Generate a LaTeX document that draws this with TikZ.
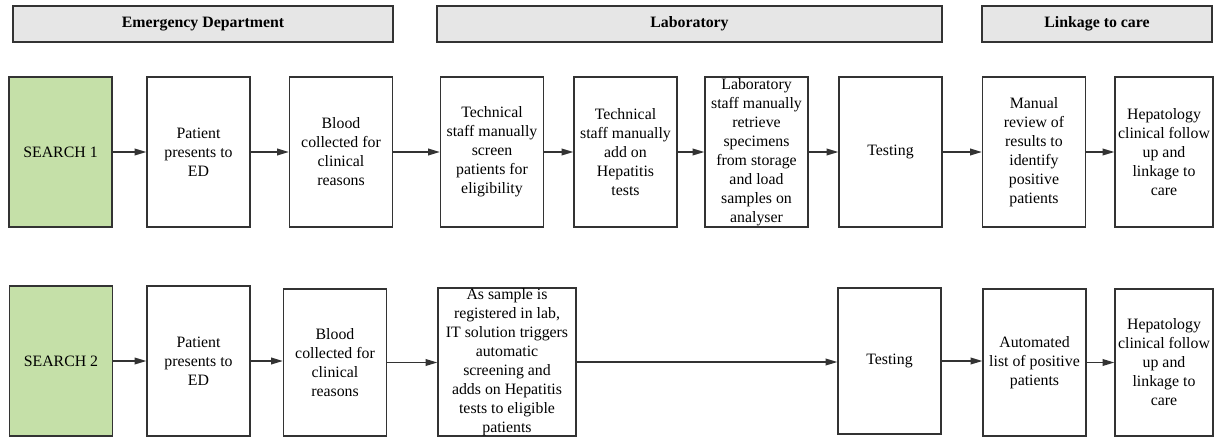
\documentclass[tikz,border=0pt]{standalone}
\usepackage{fontspec}
\setmainfont{Liberation Serif}
\usepackage{tikz}
\usetikzlibrary{arrows.meta}
\definecolor{searchgreen}{HTML}{C5E0A8}
\definecolor{headgray}{HTML}{E6E6E6}
\definecolor{linegray}{HTML}{333333}
\begin{document}
\begin{tikzpicture} [x=0.6pt,y=-0.6pt,every node/.style={align=center,font=\fontsize{9.5}{11.4}\selectfont,inner sep=0pt},
		stepbox/.style={draw=linegray,line width=0.8pt,fill=white,minimum width=61.8pt,minimum height=90pt},
		searchbox/.style={stepbox,fill=searchgreen},
		headbox/.style={draw=linegray,line width=0.8pt,fill=headgray,minimum height=21.6pt,font=\fontsize{9.5}{11.4}\selectfont\bfseries},
		flow/.style={draw=linegray,line width=0.8pt,-{Triangle[length=7pt,width=4pt]}}]
			\useasboundingbox (0,0) rectangle (1215,438);
			% header bands
			\node [headbox,minimum width=228pt] (ed) at (203,24) {Emergency Department};
			\node [headbox,minimum width=303pt] (lab) at (689.5,24) {Laboratory};
			\node [headbox,minimum width=138pt] (link) at (1097,24) {Linkage to care};
			% search 1
			\node [searchbox] (s1) at (60.5,152) {SEARCH 1};
			\node [stepbox] (pe1) at (198.5,152) {Patient\\presents to\\ED};
			\node [stepbox] (bl1) at (341,152) {Blood\\collected for\\clinical\\reasons};
			\node [stepbox] (ts1) at (492,152) {Technical\\staff manually\\screen\\patients for\\eligibility};
			\node [stepbox] (ta1) at (625.5,152) {Technical\\staff manually\\add on\\Hepatitis\\tests};
			\node [stepbox] (lr1) at (756.5,152) {Laboratory\\staff manually\\retrieve\\specimens\\from storage\\and load\\samples on\\analyser};
			\node [stepbox] (te1) at (890.5,152) {Testing};
			\node [stepbox] (mr1) at (1034,152) {Manual\\review of\\results to\\identify\\positive\\patients};
			\node [stepbox,minimum width=58.8pt] (hc1) at (1164,152) {Hepatology\\clinical follow\\up and\\linkage to\\care};
			% search 2
			\node [searchbox] (s2) at (61,361) {SEARCH 2};
			\node [stepbox] (pe2) at (198.5,361) {Patient\\presents to\\ED};
			\node [stepbox,minimum height=88.2pt] (bl2) at (335,362.5) {Blood\\collected for\\clinical\\reasons};
			\node [stepbox,minimum width=82.8pt,minimum height=88.8pt] (as2) at (507,362) {As sample is\\registered in lab,\\IT solution triggers\\automatic\\screening and\\adds on Hepatitis\\tests to eligible\\patients};
			\node [stepbox,minimum height=87.6pt] (te2) at (889.5,361) {Testing};
			\node [stepbox,minimum height=88.2pt] (au2) at (1034.5,362.5) {Automated\\list of positive\\patients};
			\node [stepbox,minimum width=58.8pt,minimum height=88.2pt] (hc2) at (1164,362.5) {Hepatology\\clinical follow\\up and\\linkage to\\care};
			\foreach \a/\b in {s1/pe1,pe1/bl1,bl1/ts1,ts1/ta1,ta1/lr1,lr1/te1,te1/mr1,mr1/hc1,s2/pe2,pe2/bl2,bl2/as2,as2/te2,te2/au2,au2/hc2}
				\draw [flow] (\a.east) -- (\a.east -| \b.west);
		\end{tikzpicture}
\end{document}
